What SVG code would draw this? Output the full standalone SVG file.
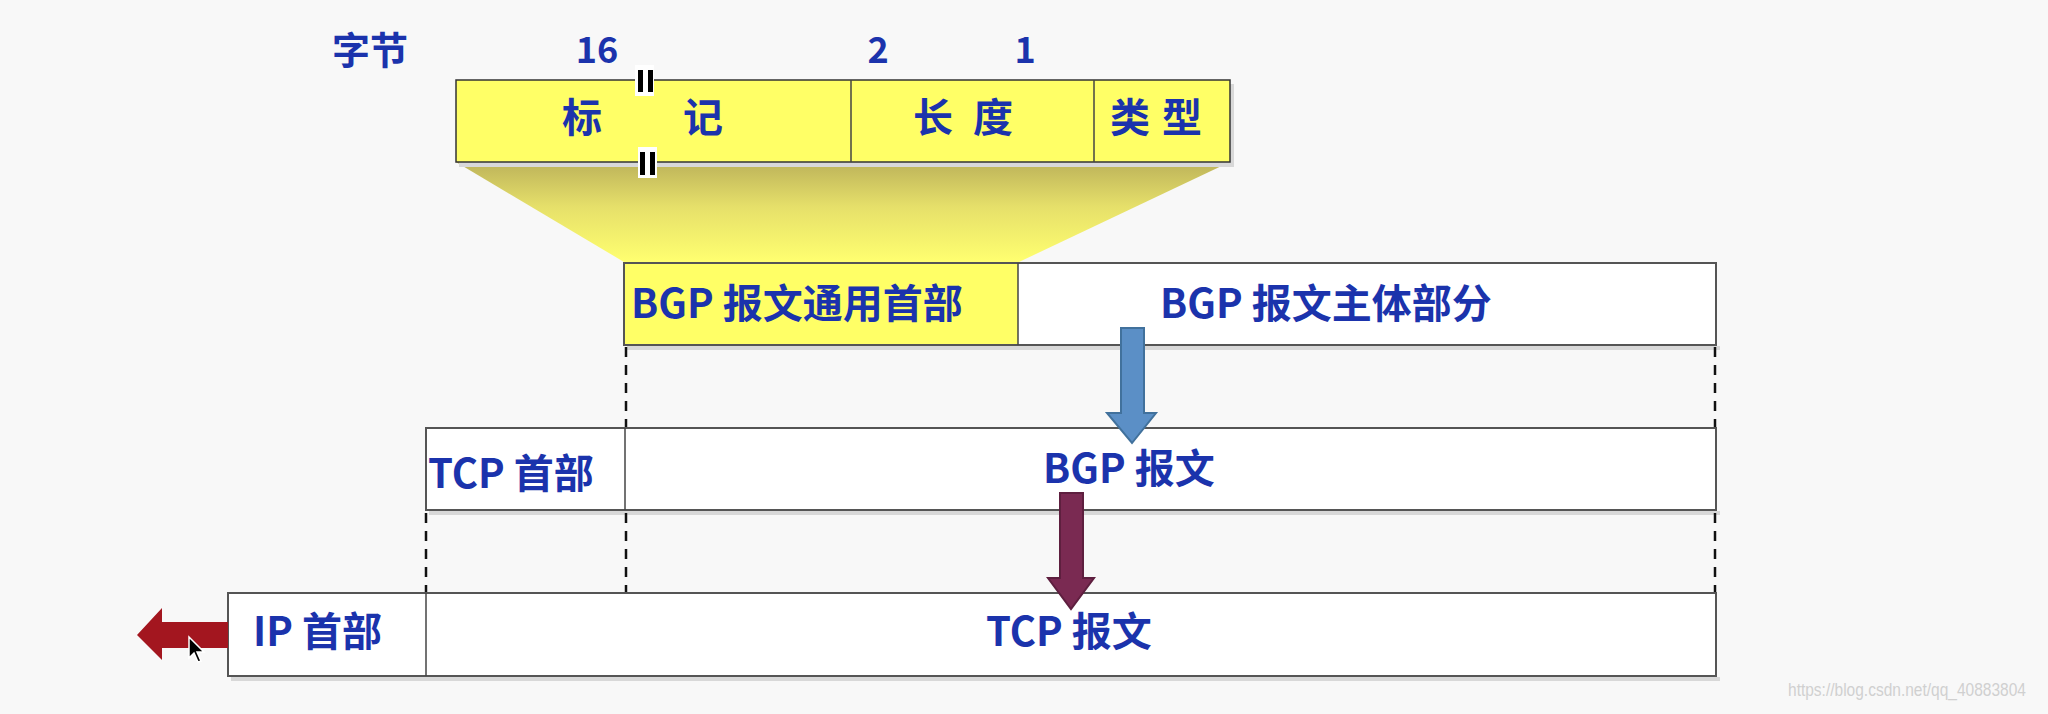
<svg xmlns="http://www.w3.org/2000/svg" width="2048" height="714" viewBox="0 0 2048 714">
<defs>
<linearGradient id="trap" x1="0" y1="0" x2="0" y2="1">
<stop offset="0" stop-color="#bdb35a"/>
<stop offset="0.45" stop-color="#e6e06a"/>
<stop offset="1" stop-color="#ffff70"/>
</linearGradient>
<style>
.t{font-family:"Noto Sans CJK SC","Noto Sans",sans-serif;font-weight:bold;fill:#1b33ac;}
.f40{font-size:40px;}
.f36{font-size:36px;}
.row{fill:#ffffff;stroke:#555555;stroke-width:2;}
.yel{fill:#ffff66;stroke:#333333;stroke-width:1.5;}
.sh{fill:#d8d8d8;}
.div{stroke:#444444;stroke-width:1.5;}
.dash{stroke:#111111;stroke-width:2.5;stroke-dasharray:10 8;fill:none;}
.bar{fill:#000000;}
.brk{fill:#ffffff;}
</style>
</defs>
<rect x="0" y="0" width="2048" height="714" fill="#f8f8f8"/>

<g id="labels-top">
<text class="t" x="332" y="64" style="font-size:38px">字节</text>
<text class="t f36" x="597" y="63" text-anchor="middle">16</text>
<text class="t f36" x="878" y="63" text-anchor="middle">2</text>
<text class="t f36" x="1025" y="63" text-anchor="middle">1</text>
</g>

<g id="trapezoid">
<polygon points="456,162 1230,162 1019,262 624,262" fill="url(#trap)"/>
</g>

<g id="header-box">
<rect class="sh" x="459" y="162" width="775" height="5"/>
<rect class="sh" x="1230" y="84" width="4" height="80"/>
<rect class="yel" x="456" y="80" width="774" height="82"/>
<line class="div" x1="851" y1="80" x2="851" y2="162"/>
<line class="div" x1="1094" y1="80" x2="1094" y2="162"/>
<text class="t f40" x="562" y="132">标</text>
<text class="t f40" x="683" y="132">记</text>
<text class="t f40" x="913" y="132">长</text>
<text class="t f40" x="973" y="132">度</text>
<text class="t f40" x="1110" y="132">类</text>
<text class="t f40" x="1162" y="132">型</text>
<rect class="brk" x="635" y="65" width="19" height="31"/>
<rect class="bar" x="638" y="70" width="5" height="22"/>
<rect class="bar" x="648" y="70" width="5" height="22"/>
<rect class="brk" x="638" y="147" width="19" height="31"/>
<rect class="bar" x="640" y="152" width="5" height="23"/>
<rect class="bar" x="650" y="152" width="5" height="23"/>
</g>

<g id="bgp-row">
<rect class="sh" x="627" y="346" width="1093" height="4"/>
<rect class="row" x="624" y="263" width="1092" height="82"/>
<rect x="625" y="264" width="393" height="80" fill="#ffff66"/>
<line class="div" x1="1018" y1="263" x2="1018" y2="345"/>
<text class="t f40" x="631" y="318">BGP 报文通用首部</text>
<text class="t f40" x="1160" y="318">BGP 报文主体部分</text>
</g>

<g id="tcp-row">
<rect class="sh" x="429" y="511" width="1291" height="4"/>
<rect class="row" x="426" y="428" width="1290" height="82"/>
<line class="div" x1="625" y1="428" x2="625" y2="510"/>
<text class="t f40" x="428" y="488">TCP 首部</text>
<text class="t f40" x="1043" y="483">BGP 报文</text>
</g>

<g id="ip-row">
<rect class="sh" x="231" y="677" width="1489" height="4"/>
<rect class="row" x="228" y="593" width="1488" height="83"/>
<line class="div" x1="426" y1="593" x2="426" y2="676"/>
<text class="t f40" x="253" y="646">IP 首部</text>
<text class="t f40" x="986" y="646">TCP 报文</text>
</g>

<g id="connectors">
<line class="dash" x1="626" y1="347" x2="626" y2="427"/>
<line class="dash" x1="1715" y1="347" x2="1715" y2="427"/>
<line class="dash" x1="426" y1="513" x2="426" y2="592"/>
<line class="dash" x1="626" y1="513" x2="626" y2="592"/>
<line class="dash" x1="1715" y1="513" x2="1715" y2="592"/>
<polygon points="1121,328 1144,328 1144,413 1156,413 1132,443 1107,413 1121,413" fill="#5b8fc6" stroke="#41719c" stroke-width="2"/>
<polygon points="1060,493 1083,493 1083,578 1094,578 1071,609 1048,578 1060,578" fill="#7a2a52" stroke="#5e1f3f" stroke-width="2"/>
<polygon points="228,622 162,622 162,608 137,635 162,660 162,648 228,648" fill="#a3161f"/>
</g>

<g id="cursor">
<polygon points="189,637 189,658 194,653 198,662 201,661 197,652 204,652" fill="#000000" stroke="#ffffff" stroke-width="1.5"/>
</g>

<text x="1788" y="696" font-family="'Liberation Sans',sans-serif" font-size="18" fill="#d0d0d0" textLength="238" lengthAdjust="spacingAndGlyphs">https://blog.csdn.net/qq_40883804</text>
</svg>
